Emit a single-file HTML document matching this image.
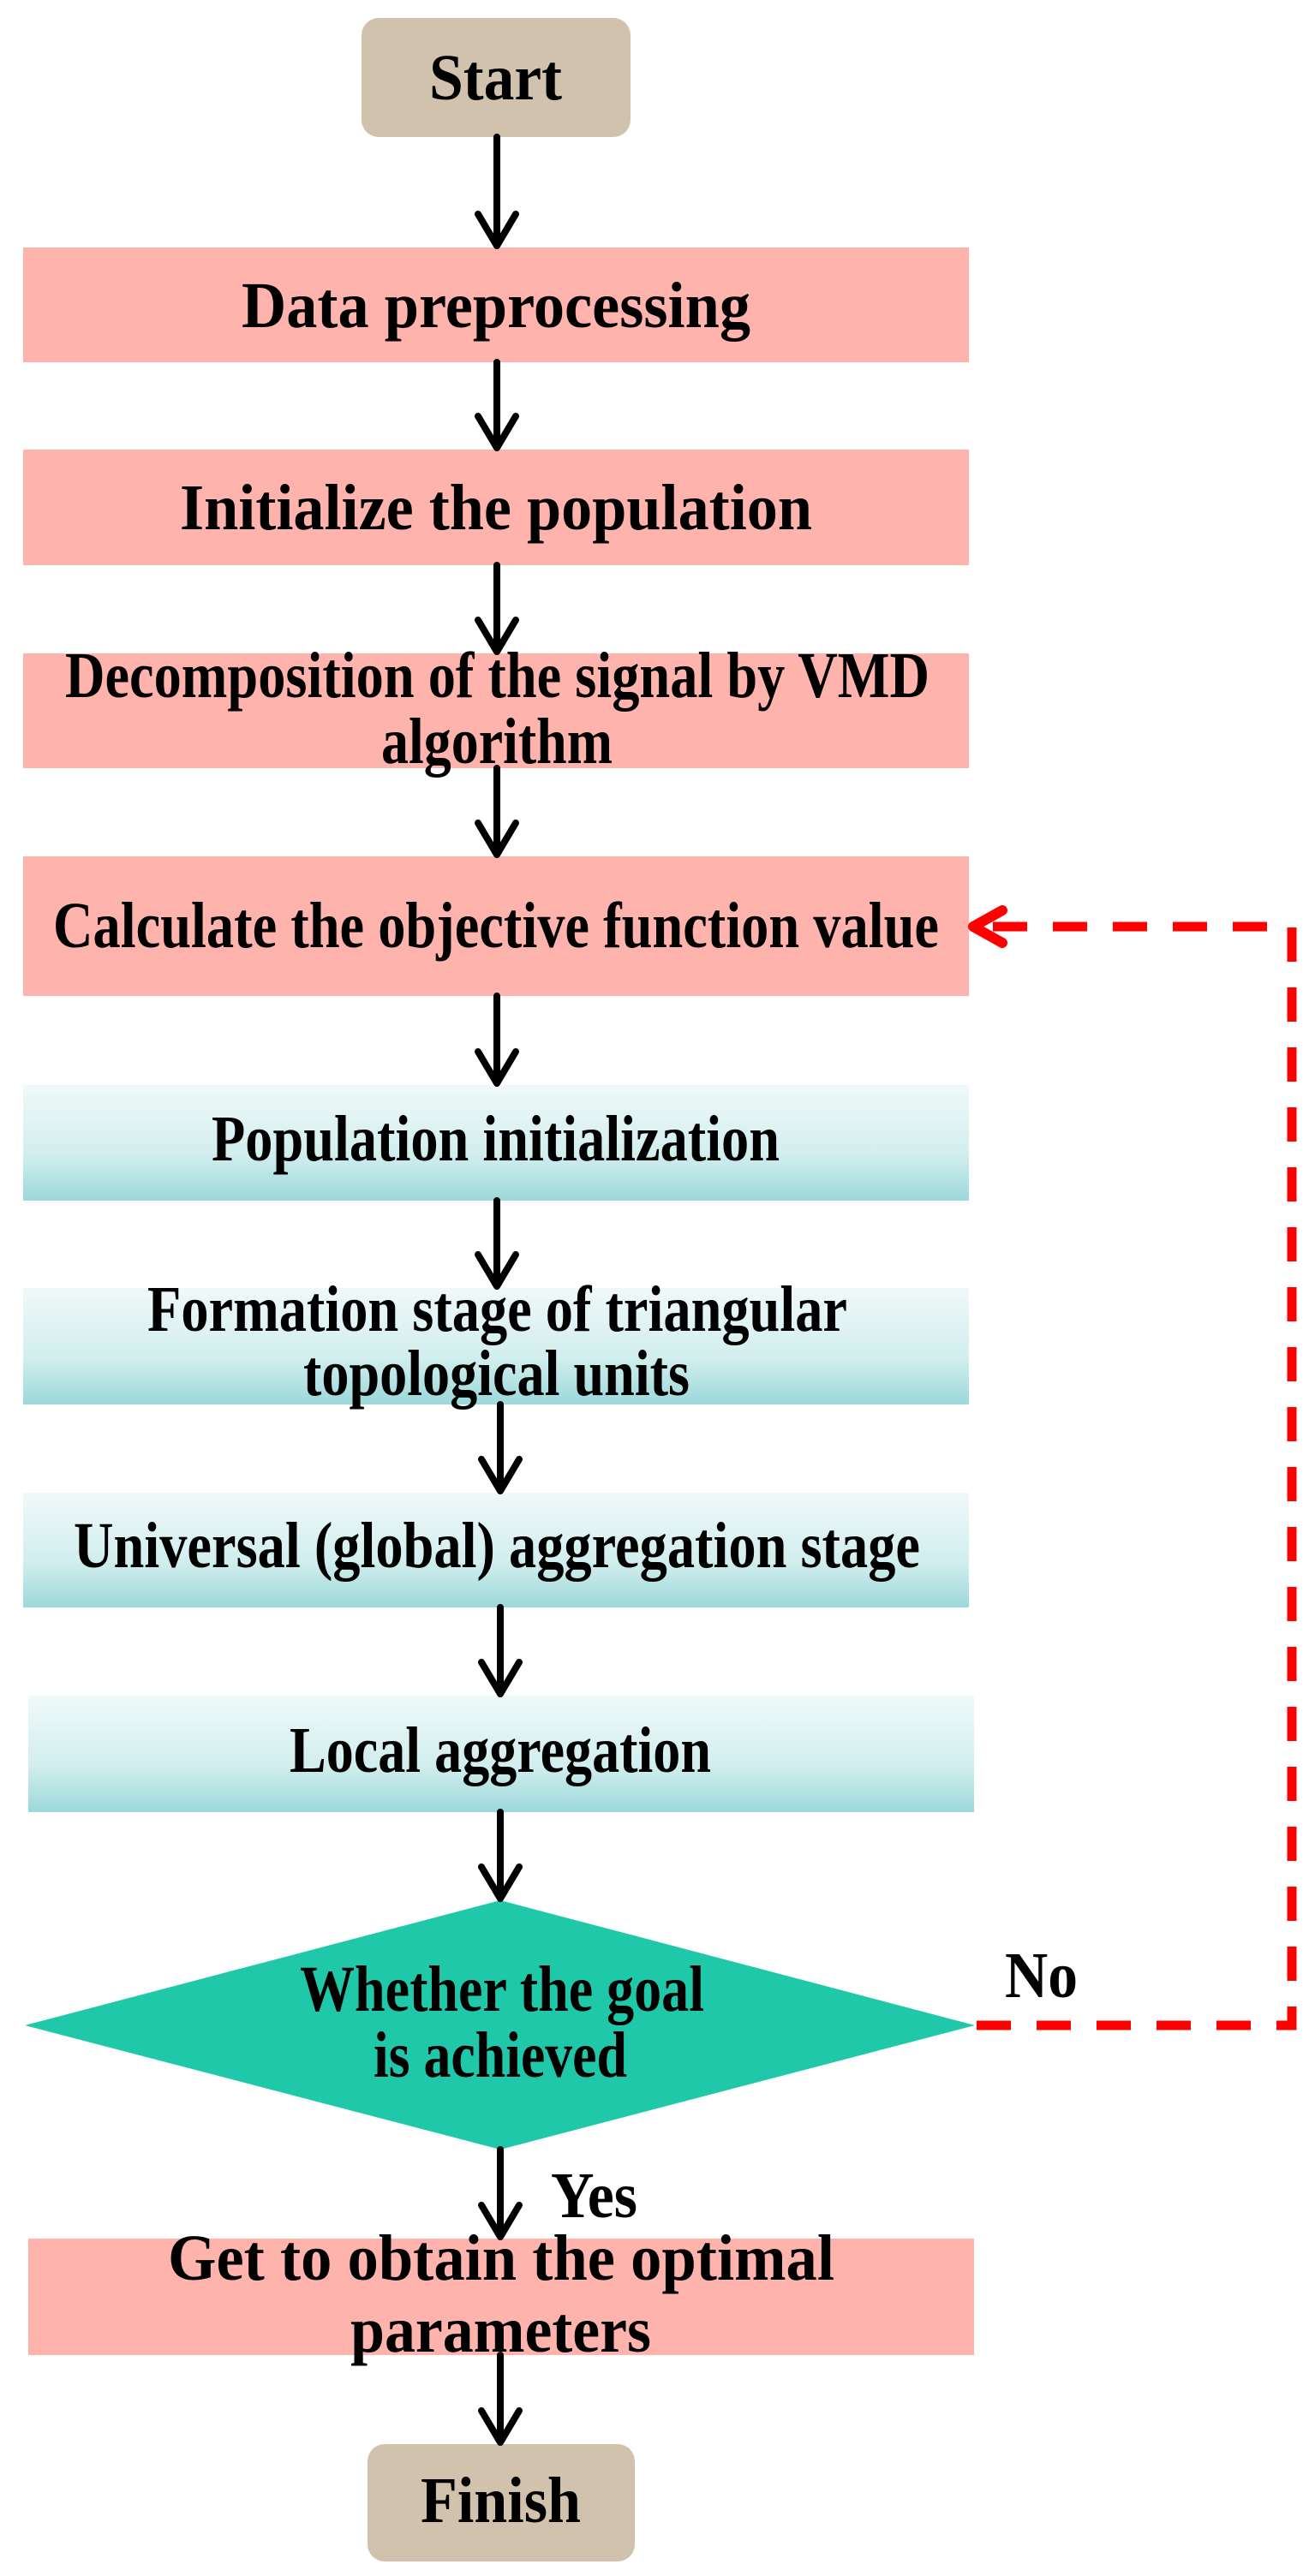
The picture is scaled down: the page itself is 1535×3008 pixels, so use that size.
<!DOCTYPE html>
<html><head><meta charset="utf-8"><style>
html,body{margin:0;padding:0;background:#fff;}
svg{display:block;}
text{font-family:"Liberation Serif",serif;font-weight:bold;fill:#000;}
</style></head><body>
<svg width="1535" height="3008" viewBox="0 0 1535 3008" xmlns="http://www.w3.org/2000/svg">
<defs>
<linearGradient id="bl" x1="0" y1="0" x2="0" y2="1">
<stop offset="0" stop-color="#f0f9f9"/>
<stop offset="0.6" stop-color="#d2eeee"/>
<stop offset="1" stop-color="#9cd8da"/>
</linearGradient>
</defs>
<rect width="1535" height="3008" fill="#fff"/>
<!-- boxes -->
<rect x="422" y="21" width="314" height="139" rx="20" fill="#d0c2ad"/>
<rect x="27" y="289" width="1104" height="134" fill="#ffb3ad"/>
<rect x="27" y="525" width="1104" height="135" fill="#ffb3ad"/>
<rect x="27" y="763" width="1104" height="134" fill="#ffb3ad"/>
<rect x="27" y="1000" width="1104" height="163" fill="#ffb3ad"/>
<rect x="27" y="1267" width="1104" height="135" fill="url(#bl)"/>
<rect x="27" y="1504" width="1104" height="136" fill="url(#bl)"/>
<rect x="27" y="1743" width="1104" height="134" fill="url(#bl)"/>
<rect x="33" y="1980" width="1104" height="136" fill="url(#bl)"/>
<polygon points="29,2365 584,2219 1138,2365 584,2510" fill="#20c8aa"/>
<rect x="33" y="2614" width="1104" height="136" fill="#ffb3ad"/>
<rect x="429" y="2854" width="312" height="137" rx="20" fill="#d0c2ad"/>
<!-- arrows -->
<g stroke="#000" stroke-width="8" fill="none" stroke-linecap="round" stroke-linejoin="round">
<path d="M580 160V287M558 250L580 287L602 250"/>
<path d="M580 423V523M558 486L580 523L602 486"/>
<path d="M580 660V761M558 724L580 761L602 724"/>
<path d="M580 897V998M558 961L580 998L602 961"/>
<path d="M580 1163V1265M558 1228L580 1265L602 1228"/>
<path d="M580 1402V1502M558 1465L580 1502L602 1465"/>
<path d="M584 1640V1741M562 1704L584 1741L606 1704"/>
<path d="M584 1877V1978M562 1941L584 1978L606 1941"/>
<path d="M584 2116V2217M562 2180L584 2217L606 2180"/>
<path d="M584 2510V2612M562 2575L584 2612L606 2575"/>
<path d="M584 2750V2852M562 2815L584 2852L606 2815"/>
</g>
<!-- red dashed feedback -->
<g stroke="#ff0000" stroke-width="11" fill="none">
<path d="M1140 2365H1508V1082H1145" stroke-dasharray="40 30"/>
<path d="M1170 1063L1136 1082L1170 1101" stroke-linecap="round" stroke-linejoin="round" stroke-width="12"/>
</g>
<!-- text -->
<g text-anchor="start" font-size="76">
<text x="501" y="116" textLength="155" lengthAdjust="spacingAndGlyphs">Start</text>
<text x="282" y="382" textLength="594" lengthAdjust="spacingAndGlyphs">Data preprocessing</text>
<text x="210" y="618" textLength="738" lengthAdjust="spacingAndGlyphs">Initialize the population</text>
<text x="76" y="814" textLength="1009" lengthAdjust="spacingAndGlyphs">Decomposition of the signal by VMD</text>
<text x="445" y="891" textLength="270" lengthAdjust="spacingAndGlyphs">algorithm</text>
<text x="62" y="1106" textLength="1034" lengthAdjust="spacingAndGlyphs">Calculate the objective function value</text>
<text x="247" y="1355" textLength="663" lengthAdjust="spacingAndGlyphs">Population initialization</text>
<text x="172" y="1554" textLength="817" lengthAdjust="spacingAndGlyphs">Formation stage of triangular</text>
<text x="354" y="1629" textLength="451" lengthAdjust="spacingAndGlyphs">topological units</text>
<text x="86" y="1830" textLength="988" lengthAdjust="spacingAndGlyphs">Universal (global) aggregation stage</text>
<text x="338" y="2069" textLength="492" lengthAdjust="spacingAndGlyphs">Local aggregation</text>
<text x="350" y="2348" textLength="472" lengthAdjust="spacingAndGlyphs">Whether the goal</text>
<text x="436" y="2425" textLength="296" lengthAdjust="spacingAndGlyphs">is achieved</text>
<text x="1173" y="2332" textLength="85" lengthAdjust="spacingAndGlyphs">No</text>
<text x="643" y="2589" textLength="101" lengthAdjust="spacingAndGlyphs">Yes</text>
<text x="196" y="2662" textLength="778" lengthAdjust="spacingAndGlyphs">Get to obtain the optimal</text>
<text x="409" y="2746" textLength="351" lengthAdjust="spacingAndGlyphs">parameters</text>
<text x="491" y="2945" textLength="187" lengthAdjust="spacingAndGlyphs">Finish</text>
</g>
</svg>
</body></html>
